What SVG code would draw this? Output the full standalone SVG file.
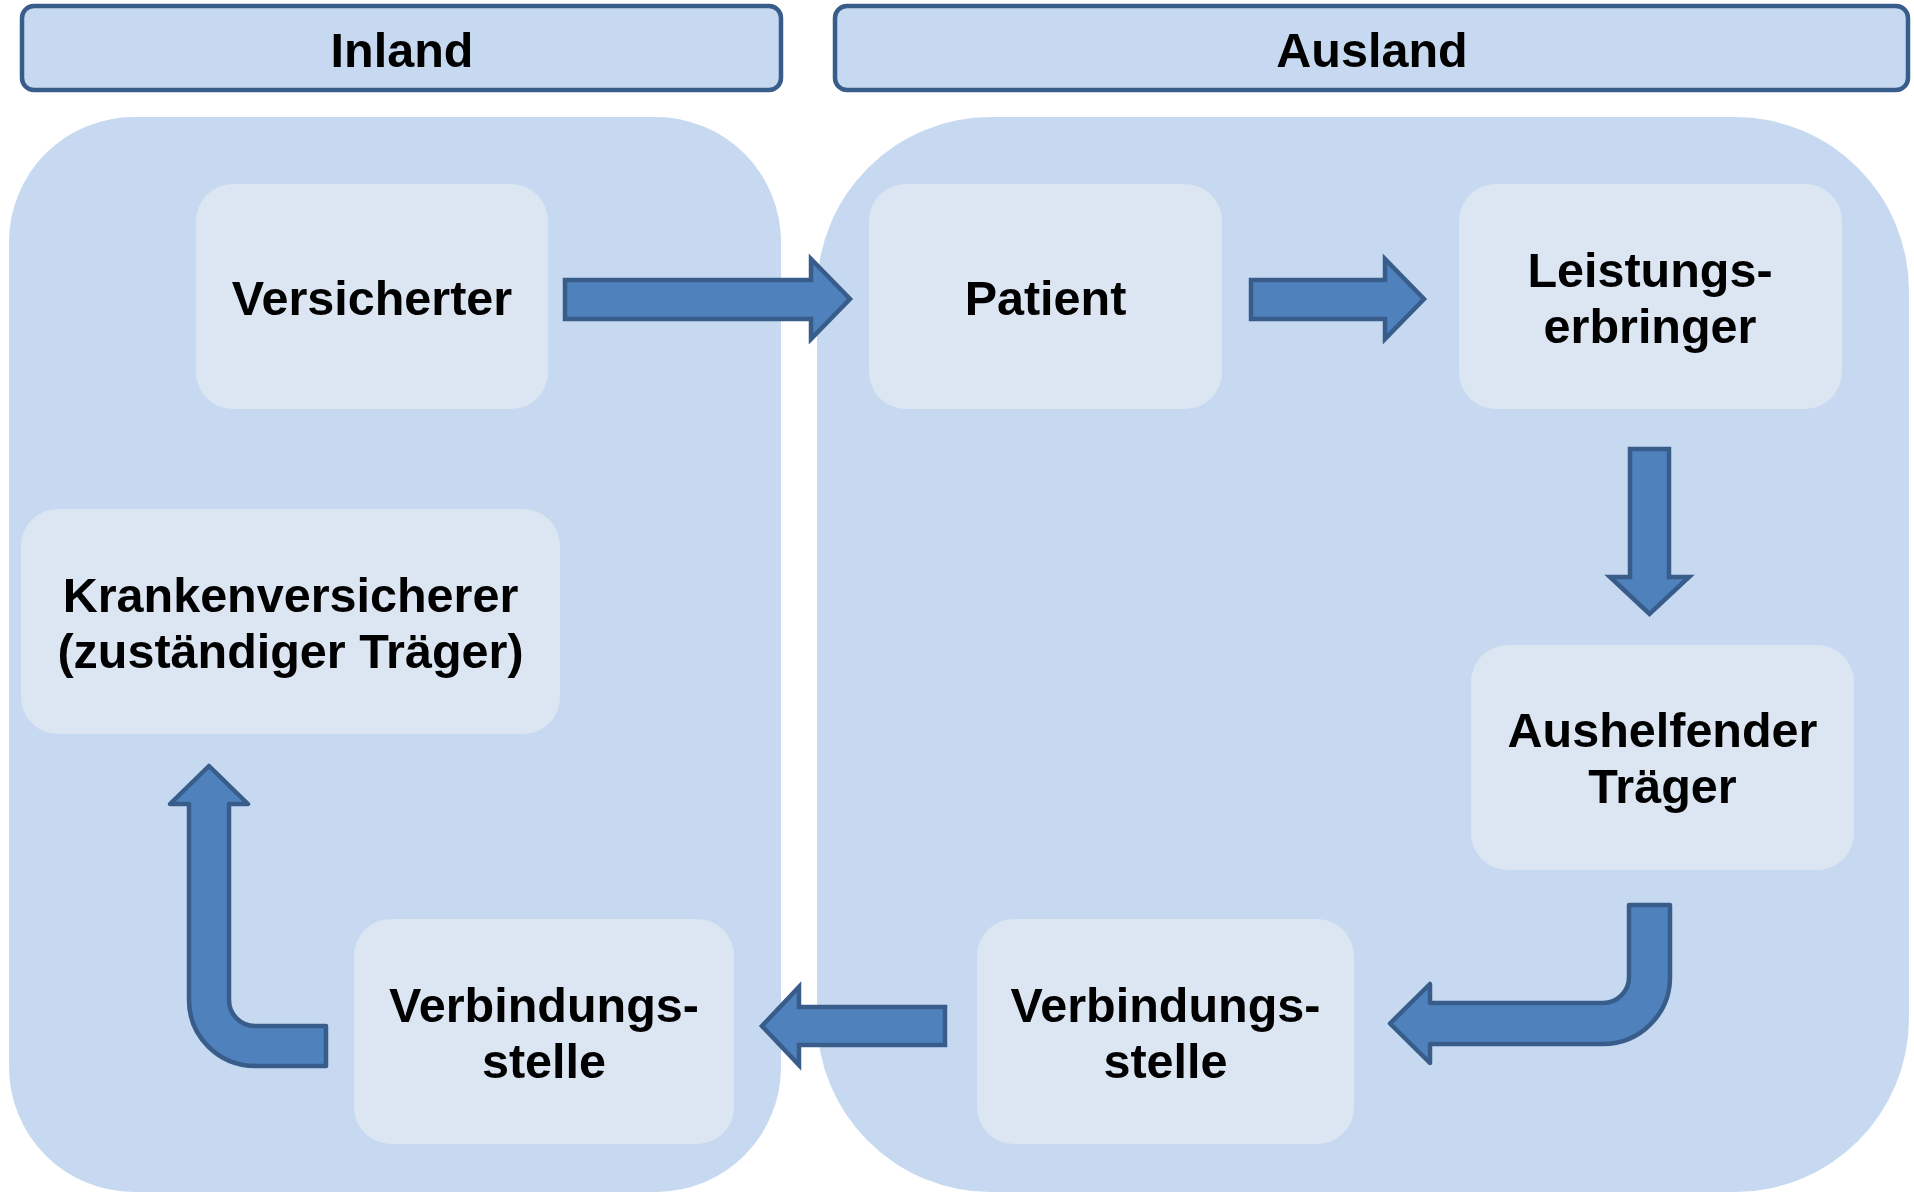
<svg xmlns="http://www.w3.org/2000/svg" width="1914" height="1192" viewBox="0 0 1914 1192">
<style>
.panel{fill:#C6D9F1;}
.hdr{fill:#C6D9F1;stroke:#385D8A;stroke-width:4.5;}
.box{fill:#DCE6F2;}
.arrow{fill:#4F81BD;stroke:#385D8A;stroke-width:4.5;}
.bent{fill:#4F81BD;stroke:#385D8A;stroke-width:4.5;stroke-linejoin:round;}
text{font-family:"Liberation Sans",Arial,Helvetica,sans-serif;font-weight:bold;font-size:48.5px;fill:#000;text-anchor:middle;}
</style>
<rect width="1914" height="1192" fill="#FFFFFF"/>
<g id="panel-inland"><rect class="panel" x="9" y="117" width="772" height="1075" rx="125" ry="125"/></g>
<g id="panel-ausland"><rect class="panel" x="817" y="117" width="1092" height="1075" rx="174" ry="174"/></g>
<g id="header-inland"><rect class="hdr" x="22" y="6" width="759" height="84" rx="12" ry="12"/><text x="402" y="67">Inland</text></g>
<g id="header-ausland"><rect class="hdr" x="835" y="6" width="1073" height="84" rx="12" ry="12"/><text x="1372" y="67">Ausland</text></g>
<g id="node-versicherter"><rect class="box" x="196" y="184" width="352" height="225" rx="37" ry="37"/><text x="372" y="315">Versicherter</text></g>
<g id="node-patient"><rect class="box" x="869" y="184" width="353" height="225" rx="37" ry="37"/><text x="1045.5" y="315">Patient</text></g>
<g id="node-leistungserbringer"><rect class="box" x="1459" y="184" width="383" height="225" rx="37" ry="37"/><text x="1650" y="287">Leistungs-</text><text x="1650" y="343">erbringer</text></g>
<g id="node-aushelfender"><rect class="box" x="1471" y="645" width="383" height="225" rx="37" ry="37"/><text x="1662.5" y="747">Aushelfender</text><text x="1662.5" y="803">Träger</text></g>
<g id="node-verbindungsstelle-ausland"><rect class="box" x="977" y="919" width="377" height="225" rx="37" ry="37"/><text x="1165.5" y="1022">Verbindungs-</text><text x="1165.5" y="1078">stelle</text></g>
<g id="node-verbindungsstelle-inland"><rect class="box" x="354" y="919" width="380" height="225" rx="37" ry="37"/><text x="544" y="1022">Verbindungs-</text><text x="544" y="1078">stelle</text></g>
<g id="node-krankenversicherer"><rect class="box" x="21" y="509" width="539" height="225" rx="37" ry="37"/><text x="290.5" y="612">Krankenversicherer</text><text x="290.5" y="668">(zuständiger Träger)</text></g>
<g id="connectors">
<polygon class="arrow" points="565,280 811,280 811,259 850,299 811,339 811,319 565,319"/>
<polygon class="arrow" points="1251,280 1385,280 1385,259 1424,299 1385,339 1385,319 1251,319"/>
<polygon class="arrow" points="1630,449 1669,449 1669,577 1689,577 1649.5,614 1610,577 1630,577"/>
<path class="bent" d="M1629,905 H1670 V977 A67,67 0 0 1 1603,1044 H1430 V1063 L1390,1023.5 L1430,984 V1003 H1603 A26,26 0 0 0 1629,977 Z"/>
<polygon class="arrow" points="945,1007 799,1007 799,987 762,1026 799,1065 799,1045 945,1045"/>
<path class="bent" d="M209,766 L248,804 H229 V1000 A26,26 0 0 0 255,1026 H326 V1066 H255 A66,66 0 0 1 189,1000 V804 H170 Z"/>
</g>
</svg>
